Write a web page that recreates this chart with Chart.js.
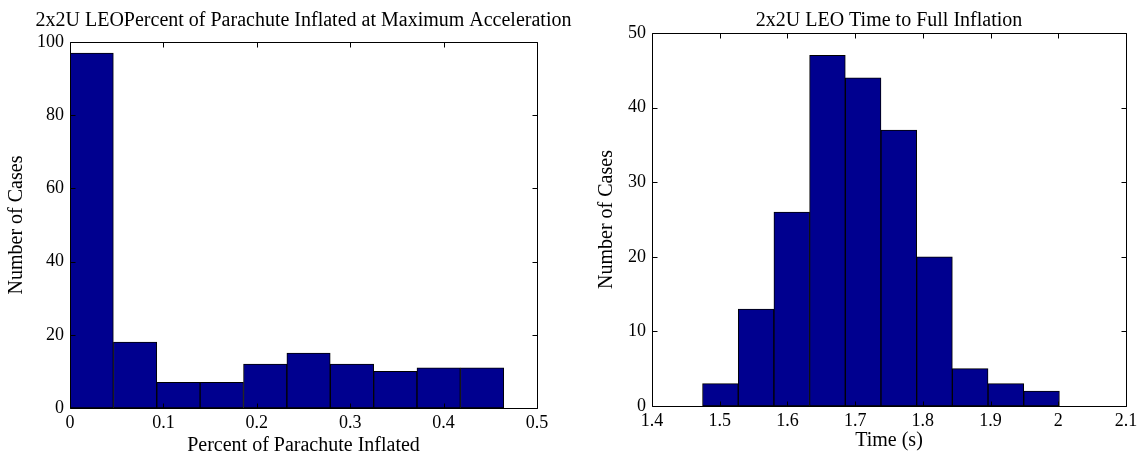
<!DOCTYPE html>
<html lang="en">
<head>
    <meta charset="UTF-8">
    <title>2x2U LEO</title>
    <style>
        body { margin: 0; background: #fff; overflow: hidden; }
        canvas { position: absolute; top: 0; }
    </style>
</head>
<body>
<!-- two histograms side by side -->
<canvas id="chartLeft" width="580" height="460" style="left:0px"></canvas>
<canvas id="chartRight" width="563" height="460" style="left:580px"></canvas>

<script src="https://cdn.jsdelivr.net/npm/chart.js"></script>
<script>
    // left histogram: percent of parachute inflated (bin centres, width ~0.0464)
    const pctBins = [0.0232, 0.0697, 0.1161, 0.1625, 0.2090, 0.2554, 0.3019, 0.3483, 0.3947, 0.4412];
    const pctCounts = [97, 18, 7, 7, 12, 15, 12, 10, 11, 11];
    const pctXTicks = [0, 0.1, 0.2, 0.3, 0.4, 0.5];
    const pctYTicks = [0, 20, 40, 60, 80, 100];

    // right histogram: time to full inflation (bin centres, width ~0.0527)
    const timeBins = [1.5010, 1.5537, 1.6064, 1.6591, 1.7118, 1.7645, 1.8172, 1.8699, 1.9226, 1.9753];
    const timeCounts = [3, 13, 26, 47, 44, 37, 20, 5, 3, 2];
    const timeXTicks = [1.4, 1.5, 1.6, 1.7, 1.8, 1.9, 2.0, 2.1];
    const timeYTicks = [0, 10, 20, 30, 40, 50];

    const serif = "'Liberation Serif', 'Times New Roman', serif";

    // matlab style box with inward ticks on all four sides + title
    const matlabBox = {
        id: 'matlabBox',
        afterDatasetsDraw(chart, args, opts) {
            const {ctx, chartArea: a, scales: {x, y}} = chart;
            ctx.save();
            ctx.strokeStyle = '#000';
            ctx.lineWidth = 1;
            ctx.beginPath();
            const L = Math.round(a.left) + 0.5, R = Math.round(a.right) + 0.5;
            const T = Math.round(a.top) + 0.5, B = Math.round(a.bottom) + 0.5;
            ctx.rect(L, T, R - L, B - T);
            x.ticks.forEach(t => {
                const px = Math.round(x.getPixelForValue(t.value)) + 0.5;
                ctx.moveTo(px, B); ctx.lineTo(px, B - 5);
                ctx.moveTo(px, T); ctx.lineTo(px, T + 5);
            });
            y.ticks.forEach(t => {
                const py = Math.round(y.getPixelForValue(t.value)) + 0.5;
                ctx.moveTo(L, py); ctx.lineTo(L + 5, py);
                ctx.moveTo(R, py); ctx.lineTo(R - 5, py);
            });
            ctx.stroke();

            ctx.fillStyle = '#000';
            ctx.font = '20px ' + serif;
            ctx.textAlign = 'center';
            ctx.textBaseline = 'alphabetic';
            ctx.fillText(opts.text, (a.left + a.right) / 2, opts.baseline);
            ctx.restore();
        }
    };

    function makeHist(id, cfg) {
        new Chart(document.getElementById(id), {
            type: 'bar',
            data: {
                datasets: [{
                    data: cfg.bins.map((b, i) => ({x: b, y: cfg.counts[i]})),
                    backgroundColor: 'rgb(0,0,143)',
                    borderColor: '#000',
                    borderWidth: 1,
                    borderSkipped: false,
                    barPercentage: 1,
                    categoryPercentage: 1
                }]
            },
            options: {
                responsive: false,
                devicePixelRatio: 1,
                animation: false,
                layout: {padding: {left: 0, right: cfg.padRight, top: cfg.padTop, bottom: 0}},
                plugins: {
                    legend: {display: false},
                    tooltip: {enabled: false},
                    matlabBox: {text: cfg.title, baseline: cfg.titleBaseline}
                },
                scales: {
                    x: {
                        type: 'linear',
                        offset: false,
                        min: cfg.xTicks[0],
                        max: cfg.xTicks[cfg.xTicks.length - 1],
                        afterBuildTicks: s => { s.ticks = cfg.xTicks.map(v => ({value: v})); },
                        afterFit: s => { s.height = cfg.xAxisH; },
                        grid: {display: false, drawTicks: false, offset: false},
                        border: {display: false},
                        ticks: {
                            color: '#000', padding: 4, maxRotation: 0, autoSkip: false,
                            font: {family: serif, size: 18},
                            callback: v => String(+v.toFixed(2))
                        },
                        title: {
                            display: true, text: cfg.xLabel, color: '#000',
                            font: {family: serif, size: 20},
                            padding: {top: 0, bottom: cfg.xTitlePad}
                        }
                    },
                    y: {
                        min: 0,
                        max: cfg.yTicks[cfg.yTicks.length - 1],
                        afterBuildTicks: s => { s.ticks = cfg.yTicks.map(v => ({value: v})); },
                        afterFit: s => { s.width = cfg.yAxisW; },
                        grid: {display: false, drawTicks: false},
                        border: {display: false},
                        ticks: {
                            color: '#000', padding: 6,
                            font: {family: serif, size: 18}
                        },
                        title: {
                            display: true, text: 'Number of Cases', color: '#000',
                            font: {family: serif, size: 20},
                            padding: {top: cfg.yTitlePad, bottom: 0}
                        }
                    }
                }
            },
            plugins: [matlabBox]
        });
    }

    makeHist('chartLeft', {
        bins: pctBins, counts: pctCounts, xTicks: pctXTicks, yTicks: pctYTicks,
        title: '2x2U LEOPercent of Parachute Inflated at Maximum Acceleration',
        xLabel: 'Percent of Parachute Inflated',
        padRight: 43, padTop: 42, yAxisW: 70, xAxisH: 52,
        titleBaseline: 26, xTitlePad: 2, yTitlePad: 5
    });

    makeHist('chartRight', {
        bins: timeBins, counts: timeCounts, xTicks: timeXTicks, yTicks: timeYTicks,
        title: '2x2U LEO Time to Full Inflation',
        xLabel: 'Time (s)',
        padRight: 17, padTop: 33, yAxisW: 72, xAxisH: 54,
        titleBaseline: 26, xTitlePad: 7, yTitlePad: 15
    });
</script>
</body>
</html>
